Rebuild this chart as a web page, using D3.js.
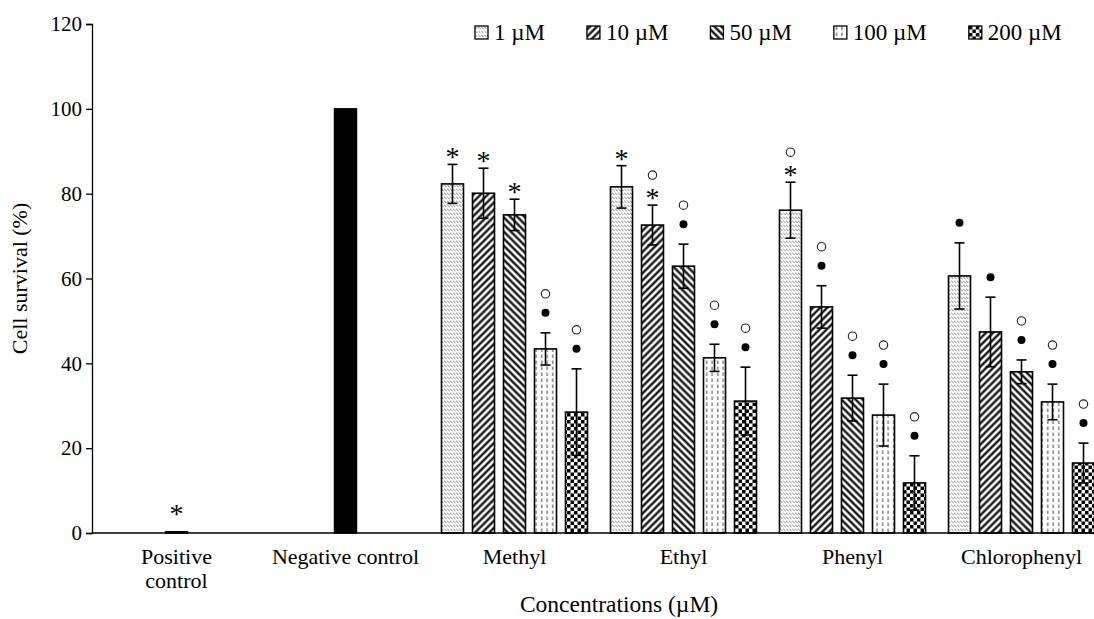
<!DOCTYPE html>
<html>
<head>
<meta charset="utf-8">
<script src="https://cdn.jsdelivr.net/npm/d3@7"></script>
<style>
  body { margin: 0; background: #fff; }
  svg text { font-family: "Liberation Serif", "Times New Roman", serif !important; fill: #000; }
</style>
</head>
<body>
<div id="chart"></div>
<script>
// data
const categories = ["Positive control", "Negative control", "Methyl", "Ethyl", "Phenyl", "Chlorophenyl"];
const concentrations = ["1 µM", "10 µM", "50 µM", "100 µM", "200 µM"];
const compounds = ["Methyl", "Ethyl", "Phenyl", "Chlorophenyl"];

const controlValues = [0.3, 100];
const controlMarks = ["*", ""];

const meanMethyl = [82.3, 80.1, 75.0, 43.4, 28.5];
const sdMethyl = [4.6, 5.9, 3.7, 3.8, 10.2];
const marksMethyl = ["*", "*", "*", "fo", "fo"];

const meanEthyl = [81.6, 72.6, 62.9, 41.3, 31.1];
const sdEthyl = [5.0, 4.7, 5.2, 3.2, 8.0];
const marksEthyl = ["*", "*o", "fo", "fo", "fo"];

const meanPhenyl = [76.1, 53.3, 31.8, 27.8, 11.8];
const sdPhenyl = [6.6, 5.0, 5.4, 7.3, 6.4];
const marksPhenyl = ["*o", "fo", "fo", "fo", "fo"];

const meanChloro = [60.6, 47.4, 38.0, 30.9, 16.5];
const sdChloro = [7.8, 8.2, 2.8, 4.2, 4.7];
const marksChloro = ["f", "f", "fo", "fo", "fo"];

const yTicks = [0, 20, 40, 60, 80, 100, 120];

const width = 1094;
const height = 619;
const margin = { top: 24, left: 92, bottom: 86 };
const serif = '"Liberation Serif", "Times New Roman", serif';

// flat list of bars for the compound groups
const means = [meanMethyl, meanEthyl, meanPhenyl, meanChloro];
const sds = [sdMethyl, sdEthyl, sdPhenyl, sdChloro];
const marks = [marksMethyl, marksEthyl, marksPhenyl, marksChloro];
let bars = [];
compounds.forEach(function (c, i) {
  concentrations.forEach(function (k, j) {
    bars.push({ cat: c, conc: k, idx: j, v: means[i][j], sd: sds[i][j], mark: marks[i][j] });
  });
});

const svg = d3.select("#chart").append("svg")
  .attr("width", width)
  .attr("height", height);

svg.append("rect").attr("width", width).attr("height", height).attr("fill", "#fff");

// patterns for the five concentrations
const defs = svg.append("defs");

const p1 = defs.append("pattern").attr("id", "pat0")
  .attr("patternUnits", "userSpaceOnUse").attr("width", 3).attr("height", 4);
p1.append("line").attr("x1", 0).attr("y1", 0.5).attr("x2", 2.6).attr("y2", 3.2)
  .attr("stroke", "#6a6a6a").attr("stroke-width", 0.8);

const p2 = defs.append("pattern").attr("id", "pat1")
  .attr("patternUnits", "userSpaceOnUse").attr("width", 5).attr("height", 5)
  .attr("patternTransform", "rotate(45)");
p2.append("line").attr("x1", 2.5).attr("y1", -1).attr("x2", 2.5).attr("y2", 6)
  .attr("stroke", "#000").attr("stroke-width", 2.2);

const p3 = defs.append("pattern").attr("id", "pat2")
  .attr("patternUnits", "userSpaceOnUse").attr("width", 5).attr("height", 5)
  .attr("patternTransform", "rotate(-45)");
p3.append("line").attr("x1", 2.5).attr("y1", -1).attr("x2", 2.5).attr("y2", 6)
  .attr("stroke", "#000").attr("stroke-width", 2.2);

const p4 = defs.append("pattern").attr("id", "pat3")
  .attr("patternUnits", "userSpaceOnUse").attr("width", 5.5).attr("height", 6);
p4.append("line").attr("x1", 2.7).attr("y1", 0.5).attr("x2", 2.7).attr("y2", 4)
  .attr("stroke", "#444").attr("stroke-width", 1);

const p5 = defs.append("pattern").attr("id", "pat4")
  .attr("patternUnits", "userSpaceOnUse").attr("width", 7).attr("height", 7);
p5.append("rect").attr("width", 7).attr("height", 7).attr("fill", "#fff");
p5.append("rect").attr("x", 0).attr("y", 0).attr("width", 3.5).attr("height", 3.5).attr("fill", "#000");
p5.append("rect").attr("x", 3.5).attr("y", 3.5).attr("width", 3.5).attr("height", 3.5).attr("fill", "#000");

// scales
const x = d3.scaleBand()
  .domain(categories)
  .range([margin.left, margin.left + 169 * categories.length]);

const xSub = d3.scaleBand()
  .domain(concentrations)
  .range([-73, 73])
  .paddingInner(9 / 31);

const y = d3.scaleLinear()
  .domain([0, 120])
  .range([height - margin.bottom, margin.top]);

const barW = xSub.bandwidth();

// axes
const yAxis = svg.append("g")
  .attr("transform", "translate(" + margin.left + ",0)")
  .attr("font-family", null)
  .call(d3.axisLeft(y).tickValues(yTicks).tickSize(6).tickPadding(4));
yAxis.attr("font-family", serif);
yAxis.select(".domain").attr("stroke", "#000").attr("stroke-width", 1.3);
yAxis.selectAll(".tick line").attr("stroke", "#000").attr("stroke-width", 1.3);
yAxis.selectAll(".tick text")
  .style("font-family", serif)
  .style("font-size", "21px").attr("fill", "#000");

// control bars
const controls = categories.slice(0, 2).map(function (c, i) {
  return { cat: c, v: controlValues[i], mark: controlMarks[i] };
});

svg.selectAll(".ctrl").data(controls).enter().append("rect")
  .attr("class", "ctrl")
  .attr("x", d => x(d.cat) + x.bandwidth() / 2 - barW / 2)
  .attr("y", d => y(d.v))
  .attr("width", barW)
  .attr("height", d => y(0) - y(d.v))
  .attr("fill", "#000")
  .attr("stroke", "#000")
  .attr("stroke-width", 1.5);

// compound bars
function barX(d) {
  return x(d.cat) + x.bandwidth() / 2 + xSub(d.conc);
}

svg.selectAll(".bar").data(bars).enter().append("rect")
  .attr("class", "bar")
  .attr("x", barX)
  .attr("y", d => y(d.v))
  .attr("width", barW)
  .attr("height", d => y(0) - y(d.v))
  .attr("fill", d => "url(#pat" + d.idx + ")")
  .attr("stroke", "#000")
  .attr("stroke-width", 1.6);

// error bars
const err = svg.selectAll(".err").data(bars).enter().append("g").attr("class", "err")
  .attr("stroke", "#000").attr("stroke-width", 1.6);
err.append("line")
  .attr("x1", d => barX(d) + barW / 2).attr("x2", d => barX(d) + barW / 2)
  .attr("y1", d => y(d.v + d.sd)).attr("y2", d => y(d.v - d.sd));
err.append("line")
  .attr("x1", d => barX(d) + barW / 2 - 5).attr("x2", d => barX(d) + barW / 2 + 5)
  .attr("y1", d => y(d.v + d.sd)).attr("y2", d => y(d.v + d.sd));
err.append("line")
  .attr("x1", d => barX(d) + barW / 2 - 5).attr("x2", d => barX(d) + barW / 2 + 5)
  .attr("y1", d => y(d.v - d.sd)).attr("y2", d => y(d.v - d.sd));

// x axis line
svg.append("line")
  .attr("x1", margin.left).attr("x2", width)
  .attr("y1", y(0)).attr("y2", y(0))
  .attr("stroke", "#000").attr("stroke-width", 1.3);

// significance symbols, stacked upwards from the top of the error bar
let symbols = [];
bars.concat(controls.map(d => ({ cat: d.cat, v: d.v, sd: 0, mark: d.mark, ctrl: true })))
  .forEach(function (d) {
    const cx = d.ctrl ? x(d.cat) + x.bandwidth() / 2 : barX(d) + barW / 2;
    let base = Math.min(y(d.v + d.sd), y(0) - 12);
    d.mark.split("").forEach(function (m, i) {
      let cy;
      if (i === 0) cy = base - (m === "*" ? 11 : 20);
      else cy = base - 19;
      base = cy;
      symbols.push({ x: cx, y: cy, m: m });
    });
  });

svg.selectAll(".ast").data(symbols.filter(s => s.m === "*")).enter().append("text")
  .attr("class", "ast")
  .attr("x", d => d.x).attr("y", d => d.y + 13)
  .attr("text-anchor", "middle")
  .style("font-size", "28px")
  .text("*");

svg.selectAll(".dot").data(symbols.filter(s => s.m === "f")).enter().append("circle")
  .attr("class", "dot")
  .attr("cx", d => d.x).attr("cy", d => d.y).attr("r", 4)
  .attr("fill", "#000");

svg.selectAll(".ring").data(symbols.filter(s => s.m === "o")).enter().append("circle")
  .attr("class", "ring")
  .attr("cx", d => d.x).attr("cy", d => d.y).attr("r", 4.2)
  .attr("fill", "none").attr("stroke", "#222").attr("stroke-width", 1.1);

// category labels
const catLabels = svg.selectAll(".cat").data(categories).enter().append("text")
  .attr("class", "cat")
  .attr("x", d => x(d) + x.bandwidth() / 2)
  .attr("y", 564)
  .attr("text-anchor", "middle")
  .style("font-size", "22px");
catLabels.each(function (d, i) {
  const t = d3.select(this);
  if (i === 0) {
    const parts = d.split(" ");
    t.append("tspan").attr("x", x(d) + x.bandwidth() / 2).text(parts[0]);
    t.append("tspan").attr("x", x(d) + x.bandwidth() / 2).attr("dy", 24).text(parts[1]);
  } else {
    t.text(d);
  }
});

// axis titles
svg.append("text")
  .attr("x", 619).attr("y", 612)
  .attr("text-anchor", "middle")
  .style("font-size", "23.5px")
  .text("Concentrations (µM)");

svg.append("text")
  .attr("transform", "translate(27," + y(60) + ") rotate(-90)")
  .attr("text-anchor", "middle")
  .style("font-size", "22px")
  .text("Cell survival (%)");

// legend
let lx = 475;
concentrations.forEach(function (c, i) {
  const g = svg.append("g").attr("transform", "translate(" + lx + ",26)");
  g.append("rect").attr("width", 13).attr("height", 13)
    .attr("fill", "url(#pat" + i + ")").attr("stroke", "#000").attr("stroke-width", 1.3);
  const t = g.append("text").attr("x", 19).attr("y", 14)
    .style("font-size", "23px").text(c);
  lx += 19 + t.node().getComputedTextLength() + 42;
});
</script>
</body>
</html>
